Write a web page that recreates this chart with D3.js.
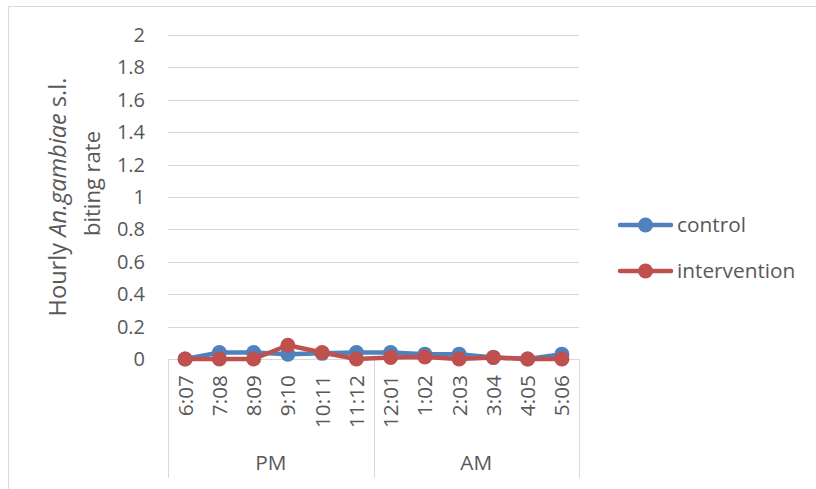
<!DOCTYPE html>
<html>
<head>
<meta charset="utf-8">
<script src="https://cdn.jsdelivr.net/npm/d3@7"></script>
<style>
  html, body { margin: 0; padding: 0; background: #fff; }
  svg { display: block; }
  text { font-family: "Open Sans", Lato, sans-serif; fill: #595959; }
</style>
</head>
<body>
<script>
// Hourly biting rate by collection hour, grouped by PM / AM
const hours = ["6:07", "7:08", "8:09", "9:10", "10:11", "11:12", "12:01", "1:02", "2:03", "3:04", "4:05", "5:06"];
const periods = [
  { name: "PM", from: 0, to: 6 },
  { name: "AM", from: 6, to: 12 }
];
const controlRates = [0, 0.04, 0.04, 0.03, 0.035, 0.04, 0.04, 0.03, 0.03, 0.01, 0, 0.03];
const interventionRates = [0, 0, 0, 0.085, 0.04, 0, 0.01, 0.012, 0, 0.01, 0, 0];
const yTicks = [0, 0.2, 0.4, 0.6, 0.8, 1, 1.2, 1.4, 1.6, 1.8, 2];
const seriesNames = ["control", "intervention"];
const seriesColors = ["#4F81BD", "#C0504D"];

const W = 816, H = 489;
const plot = { left: 168, right: 579, top: 35, bottom: 359 };
const fontSize = 20.8;

const svg = d3.select("body").append("svg").attr("width", W).attr("height", H);

// chart frame
svg.append("rect")
  .attr("x", 8.5).attr("y", 6.5).attr("width", 820).attr("height", 500)
  .attr("fill", "none").attr("stroke", "#d9d9d9").attr("stroke-width", 1);

const x = d3.scaleBand().domain(hours).range([plot.left, plot.right]);
const y = d3.scaleLinear().domain([0, 2]).range([plot.bottom, plot.top]);

// horizontal gridlines
svg.append("g").selectAll("line").data(yTicks.filter(d => d > 0)).join("line")
  .attr("x1", plot.left).attr("x2", plot.right)
  .attr("y1", d => Math.round(y(d)) + 0.5).attr("y2", d => Math.round(y(d)) + 0.5)
  .attr("stroke", "#d9d9d9").attr("stroke-width", 1);

// y-axis tick labels
const yAxis = d3.axisLeft(y).tickValues(yTicks).tickSize(0).tickPadding(0)
  .tickFormat(d => String(d));
const gy = svg.append("g").attr("transform", `translate(${plot.left - 23},0)`).call(yAxis);
gy.select(".domain").remove();
gy.selectAll("text").style("font-family", "'Open Sans', Lato, sans-serif")
  .style("font-size", "20px").attr("fill", "#595959");

// category axis: baseline and group separators
const axisBottom = 478;
svg.append("line")
  .attr("x1", plot.left).attr("x2", plot.right)
  .attr("y1", plot.bottom + 0.5).attr("y2", plot.bottom + 0.5)
  .attr("stroke", "#d9d9d9");
const sepX = [plot.left, ...periods.map(p => x(hours[p.to - 1]) + x.bandwidth())];
svg.append("g").selectAll("line").data(sepX).join("line")
  .attr("x1", d => Math.round(d) + 0.5).attr("x2", d => Math.round(d) + 0.5)
  .attr("y1", plot.bottom).attr("y2", axisBottom)
  .attr("stroke", "#d9d9d9");

// rotated hour labels
svg.append("g").selectAll("text").data(hours).join("text")
  .attr("transform", d => `translate(${x(d) + x.bandwidth() / 2 + 7.5},${plot.bottom + 16}) rotate(-90)`)
  .attr("text-anchor", "end")
  .style("font-size", fontSize + "px")
  .text(d => d);

// period labels
svg.append("g").selectAll("text").data(periods).join("text")
  .attr("x", p => (x(hours[p.from]) + x(hours[p.to - 1]) + x.bandwidth()) / 2)
  .attr("y", 470)
  .attr("text-anchor", "middle")
  .style("font-size", fontSize + "px")
  .text(p => p.name);

// y-axis title: two rotated lines, the species name in italics
const t1 = svg.append("text")
  .attr("transform", "translate(65.5,197) rotate(-90)")
  .attr("text-anchor", "middle")
  .style("font-size", "23.6px");
t1.append("tspan").text("Hourly ");
t1.append("tspan").style("font-style", "italic").text("An.gambiae");
t1.append("tspan").text(" s.l.");
svg.append("text")
  .attr("transform", "translate(99.5,183.5) rotate(-90)")
  .attr("text-anchor", "middle")
  .style("font-size", "22px")
  .text("biting rate");

// series lines and markers
const cx = d => x(d) + x.bandwidth() / 2;
const line = d3.line().x((v, i) => cx(hours[i])).y(v => y(v));
[controlRates, interventionRates].forEach((vals, s) => {
  const g = svg.append("g");
  g.append("path").datum(vals)
    .attr("d", line)
    .attr("fill", "none")
    .attr("stroke", seriesColors[s])
    .attr("stroke-width", 4.5)
    .attr("stroke-linejoin", "round")
    .attr("stroke-linecap", "round");
  g.selectAll("circle").data(vals).join("circle")
    .attr("cx", (v, i) => cx(hours[i]))
    .attr("cy", v => y(v))
    .attr("r", 7.5)
    .attr("fill", seriesColors[s]);
});

// legend
const legend = svg.append("g");
seriesNames.forEach((name, i) => {
  const ly = 225 + i * 46;
  legend.append("line")
    .attr("x1", 620).attr("x2", 671).attr("y1", ly).attr("y2", ly)
    .attr("stroke", seriesColors[i]).attr("stroke-width", 4.5).attr("stroke-linecap", "round");
  legend.append("circle").attr("cx", 645.5).attr("cy", ly).attr("r", 7.5).attr("fill", seriesColors[i]);
  legend.append("text")
    .attr("x", 677).attr("y", ly + 7)
    .style("font-size", fontSize + "px")
    .text(name);
});
</script>
</body>
</html>
